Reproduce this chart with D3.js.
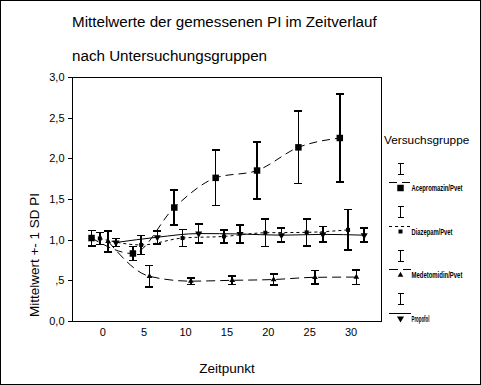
<!DOCTYPE html>
<html><head><meta charset="utf-8">
<script src="https://cdn.jsdelivr.net/npm/d3@7"></script>
<style>
html,body{margin:0;padding:0;background:#fff;}
svg{display:block;font-family:"Liberation Sans",Arial,sans-serif;}
</style></head>
<body>
<svg id="c" width="481" height="385"></svg>
<script>
const titleLines = ["Mittelwerte der gemessenen PI im Zeitverlauf", "nach Untersuchungsgruppen"];
const yTitle = "Mittelwert +- 1 SD PI";
const xTitle = "Zeitpunkt";
const legendTitle = "Versuchsgruppe";
const timepoints = [0, 5, 10, 15, 20, 25, 30];
const groups = ["Acepromazin/Pvet", "Diazepam/Pvet", "Medetomidin/Pvet", "Propofol"];
const groupOffset = [-1.3, -0.3, 0.7, 1.65];
const yTicks = [0, 0.5, 1, 1.5, 2, 2.5, 3];
const yTickLabels = ["0,0", ",5", "1,0", "1,5", "2,0", "2,5", "3,0"];

const aceMean = [1.02, 0.83, 1.395, 1.76, 1.85, 2.135, 2.25];
const aceSD   = [0.095, 0.085, 0.215, 0.34, 0.35, 0.445, 0.54];
const diaMean = [1.015, 0.935, 1.02, 1.04, 1.085, 1.09, 1.12];
const diaSD   = [0.075, 0.115, 0.105, 0.08, 0.17, 0.165, 0.25];
const medMean = [0.98, 0.55, 0.49, 0.50, 0.51, 0.537, 0.54];
const medSD   = [0.13, 0.13, 0.04, 0.05, 0.065, 0.085, 0.09];
const proMean = [0.965, 1.03, 1.075, 1.07, 1.055, 1.065, 1.055];
const proSD   = [0.05, 0.08, 0.115, 0.11, 0.085, 0.095, 0.085];

const means = [aceMean, diaMean, medMean, proMean];
const sds = [aceSD, diaSD, medSD, proSD];

const styles = [
  {dash: "8,5", sym: d3.symbolSquare, size: 42, rot: 0},
  {dash: "3,3", sym: d3.symbolSquare, size: 16, rot: 0},
  {dash: "9,5", sym: d3.symbolTriangle, size: 14, rot: 0},
  {dash: null, sym: d3.symbolTriangle, size: 22, rot: 180}
];

const svg = d3.select("#c");
const L = 72, R = 382, T = 77, B = 321;
const x = d3.scaleLinear().domain([-3.66, 33.8]).range([L, R]);
const y = d3.scaleLinear().domain([0, 3]).range([B, T]);

// outer border
svg.append("rect").attr("x", 0.5).attr("y", 0.5).attr("width", 480).attr("height", 384)
  .attr("fill", "none").attr("stroke", "#000");

// titles
svg.selectAll(".title").data(titleLines).join("text")
  .attr("x", 72).attr("y", (d, i) => i === 0 ? 27 : 61)
  .attr("font-size", 15.2).attr("fill", "#000").text(d => d);

// frame
svg.append("rect").attr("x", L + 0.5).attr("y", T + 0.5).attr("width", R - L - 1).attr("height", B - T)
  .attr("fill", "none").attr("stroke", "#000").attr("shape-rendering", "crispEdges");

// y axis
const ya = svg.append("g").attr("transform", `translate(${L + 0.5},0)`)
  .call(d3.axisLeft(y).tickValues(yTicks).tickFormat((d, i) => yTickLabels[i]).tickSize(5).tickSizeOuter(0).tickPadding(3));
ya.select(".domain").remove();
ya.selectAll("text").attr("font-size", 11).attr("font-family", "Liberation Sans, Arial").attr("fill", "#000");
ya.selectAll("line").attr("shape-rendering", "crispEdges");

// x axis
const xa = svg.append("g").attr("transform", `translate(0,${B})`)
  .call(d3.axisBottom(x).tickValues(timepoints).tickSize(0).tickPadding(7));
xa.select(".domain").remove();
xa.selectAll("text").attr("font-size", 11).attr("font-family", "Liberation Sans, Arial").attr("fill", "#000");

// axis titles
svg.append("text").attr("transform", `translate(39,255) rotate(-90)`).attr("text-anchor", "middle")
  .attr("font-size", 13.5).text(yTitle);
svg.append("text").attr("x", (L + R) / 2).attr("y", 373).attr("text-anchor", "middle")
  .attr("font-size", 13.5).text(xTitle);

// series
const plot = svg.append("g");
groups.forEach((g, gi) => {
  const pts = timepoints.map((t, i) => ({t: t + groupOffset[gi], m: means[gi][i], s: sds[gi][i]}));
  const st = styles[gi];
  const line = d3.line().x(d => x(d.t)).y(d => y(d.m)).curve(d3.curveMonotoneX);
  plot.append("path").attr("d", line(pts)).attr("fill", "none").attr("stroke", "#000")
    .attr("stroke-width", 1).attr("stroke-dasharray", st.dash);
  const eb = plot.append("g").attr("stroke", "#000").attr("stroke-width", 1.6).attr("shape-rendering", "crispEdges");
  pts.forEach(d => {
    const cx = x(d.t);
    eb.append("line").attr("x1", cx).attr("x2", cx).attr("y1", y(d.m - d.s)).attr("y2", y(d.m + d.s));
    eb.append("line").attr("x1", cx - 4).attr("x2", cx + 4).attr("y1", y(d.m - d.s)).attr("y2", y(d.m - d.s));
    eb.append("line").attr("x1", cx - 4).attr("x2", cx + 4).attr("y1", y(d.m + d.s)).attr("y2", y(d.m + d.s));
  });
  plot.selectAll(null).data(pts).join("path")
    .attr("d", d3.symbol().type(st.sym).size(st.size))
    .attr("transform", d => `translate(${x(d.t)},${y(d.m)}) rotate(${st.rot})`)
    .attr("fill", "#000");
});

// legend
const leg = svg.append("g");
leg.append("text").attr("x", 384).attr("y", 144).attr("font-size", 11.8).text(legendTitle);
const labelW = [51, 41, 51, 18];
groups.forEach((g, gi) => {
  const base = 182.5 + gi * 43.5;
  const st = styles[gi];
  const cx = 400.5;
  const ib = leg.append("g").attr("stroke", "#000").attr("stroke-width", 1).attr("shape-rendering", "crispEdges");
  ib.append("line").attr("x1", cx).attr("x2", cx).attr("y1", base - 19.5).attr("y2", base - 8.5);
  ib.append("line").attr("x1", cx - 3).attr("x2", cx + 3).attr("y1", base - 19.5).attr("y2", base - 19.5);
  ib.append("line").attr("x1", cx - 3).attr("x2", cx + 3).attr("y1", base - 8.5).attr("y2", base - 8.5);
  leg.append("line").attr("x1", 389).attr("x2", 411).attr("y1", base).attr("y2", base)
    .attr("stroke", "#000").attr("stroke-width", 1).attr("stroke-dasharray", st.dash).attr("shape-rendering", "crispEdges");
  leg.append("path").attr("d", d3.symbol().type(st.sym).size(st.size))
    .attr("transform", `translate(${cx},${base + 5.5}) rotate(${st.rot})`).attr("fill", "#000");
  const t = leg.append("text").attr("x", 0).attr("y", 0).attr("font-size", 8.5).attr("font-weight", "bold").text(g);
  const w = t.node().getComputedTextLength();
  t.attr("transform", `translate(411.5,${base + 8.5}) scale(${labelW[gi] / w},1)`);
});
</script>
</body></html>
